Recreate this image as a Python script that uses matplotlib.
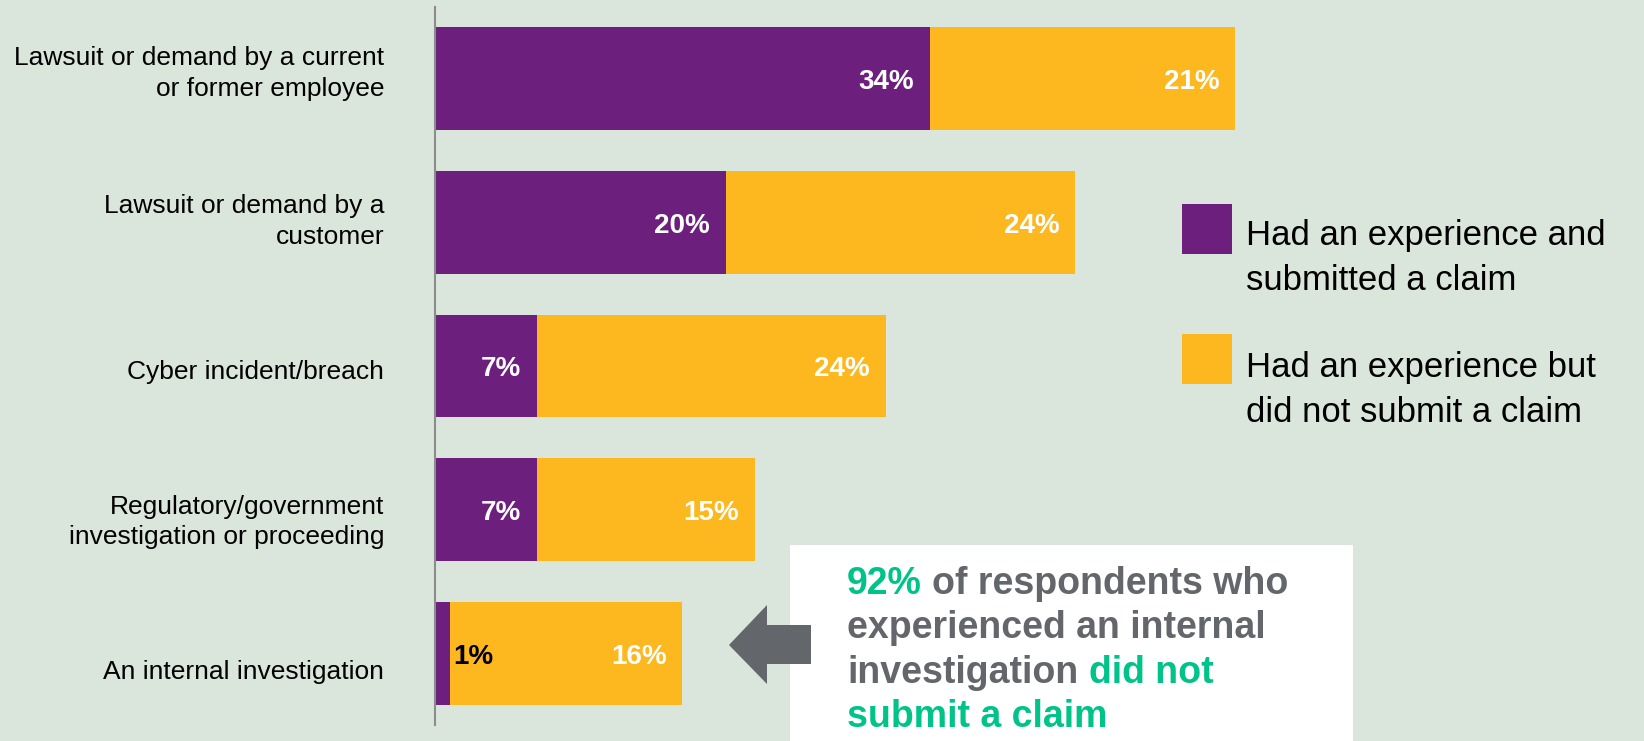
import matplotlib
matplotlib.use('Agg')
import matplotlib.pyplot as plt
from matplotlib.patches import Rectangle, Polygon
from matplotlib.transforms import Affine2D, ScaledTranslation
import numpy as np

# ---- data ----
categories = ["Lawsuit or demand by a current\nor former employee",
              "Lawsuit or demand by a\ncustomer",
              "Cyber incident/breach",
              "Regulatory/government\ninvestigation or proceeding",
              "An internal investigation"]
submitted = [34, 20, 7, 7, 1]
not_submitted = [21, 24, 24, 15, 16]
series_names = ["Had an experience and\nsubmitted a claim",
                "Had an experience but\ndid not submit a claim"]
callout_lines = [[("92%", "g"), ("of respondents who", "k")],
                 [("experienced an internal", "k")],
                 [("investigation", "k"), ("did not", "g")],
                 [("submit a claim", "g")]]

W, H = 1644, 741
BG = '#DAE6DC'
PURPLE = '#6D1F7E'
YELLOW = '#FDB71F'
GREEN = '#00C389'
GREY = '#63666A'

plt.rcParams['font.family'] = ['Liberation Sans', 'DejaVu Sans']
fig = plt.figure(figsize=(W / 100, H / 100), dpi=100, facecolor=BG)
T = Affine2D().scale(1 / W, -1 / H).translate(0, 1) + fig.transFigure

ax_left, ax_top, ax_bot = 435, 7, 725
ax = fig.add_axes([ax_left / W, (H - ax_bot) / H, (W - ax_left) / W, (ax_bot - ax_top) / H])
ax.set_facecolor(BG)
px_per_unit = 14.55
ax.set_xlim(0, (W - ax_left) / px_per_unit)
y = np.arange(len(categories))
ax.set_ylim(len(categories) - 0.5, -0.5)

bars1 = ax.barh(y, submitted, height=0.717, color=PURPLE, zorder=2)
bars2 = ax.barh(y, not_submitted, left=submitted, height=0.717, color=YELLOW, zorder=2)

for i in range(len(categories)):
    ends = [(submitted[i], submitted[i]), (submitted[i] + not_submitted[i], not_submitted[i])]
    for xend, val in ends:
        if val >= 3:
            ax.annotate(f"{val}%", (xend, y[i]), xytext=(-11.5, -2.5), textcoords='offset points',
                        ha='right', va='center', color='white', fontsize=20, fontweight='bold', zorder=3)
        else:
            ax.annotate(f"{val}%", (xend, y[i]), xytext=(2.5, -2.5), textcoords='offset points',
                        ha='left', va='center', color='black', fontsize=20, fontweight='bold', zorder=3)

ax.set_yticks(y)
ax.set_yticklabels(categories, fontsize=19, linespacing=1.35, color='black')
ax.tick_params(axis='y', length=0, pad=36.7)
label_shift_px = [-11, -6.5, 4, 6.5, 16]
for lab, d in zip(ax.get_yticklabels(), label_shift_px):
    lab.set_transform(lab.get_transform() + ScaledTranslation(0, -d / 100, fig.dpi_scale_trans))
ax.set_xticks([])
for s in ['top', 'right', 'bottom']:
    ax.spines[s].set_visible(False)
ax.spines['left'].set_color('#8C8C8C')
ax.spines['left'].set_linewidth(1.5)

# ---- legend ----
leg_colors = [PURPLE, YELLOW]
leg_tops = [204, 334]
leg_base = [41, 43]
for name, c, top, bo in zip(series_names, leg_colors, leg_tops, leg_base):
    fig.add_artist(Rectangle((1182, top), 50, 50, transform=T, facecolor=c, edgecolor='none'))
    for k, line in enumerate(name.split("\n")):
        fig.text(1246, top + bo + 45 * k, line, transform=T, fontsize=25, color='black',
                 ha='left', va='baseline')

# ---- callout box ----
fig.add_artist(Rectangle((790, 545), 563, 200, transform=T, facecolor='white', edgecolor='none', zorder=1))
arrow = [(729, 645), (767, 605), (767, 625), (811, 625), (811, 664), (767, 664), (767, 684)]
fig.add_artist(Polygon(arrow, closed=True, transform=T, facecolor=GREY, edgecolor='none', zorder=2))

fig.canvas.draw()
r = fig.canvas.get_renderer()
CFS = 27
def text_width(s):
    t = fig.text(0, 0, s, fontsize=CFS, fontweight='bold')
    w = t.get_window_extent(r).width
    t.remove()
    return w

cmap = {"g": GREEN, "k": GREY}
x0 = 847
baselines = [594, 638, 683, 727]
for line, yb in zip(callout_lines, baselines):
    full = " ".join(p for p, _ in line)
    fig.text(x0, yb, line[0][0], transform=T, fontsize=CFS, fontweight='bold',
             color=cmap[line[0][1]], ha='left', va='baseline', zorder=3)
    if len(line) > 1:
        fig.text(x0 + text_width(full), yb, line[1][0], transform=T, fontsize=CFS, fontweight='bold',
                 color=cmap[line[1][1]], ha='right', va='baseline', zorder=3)

fig.savefig('out.png', dpi=100, facecolor=BG)
